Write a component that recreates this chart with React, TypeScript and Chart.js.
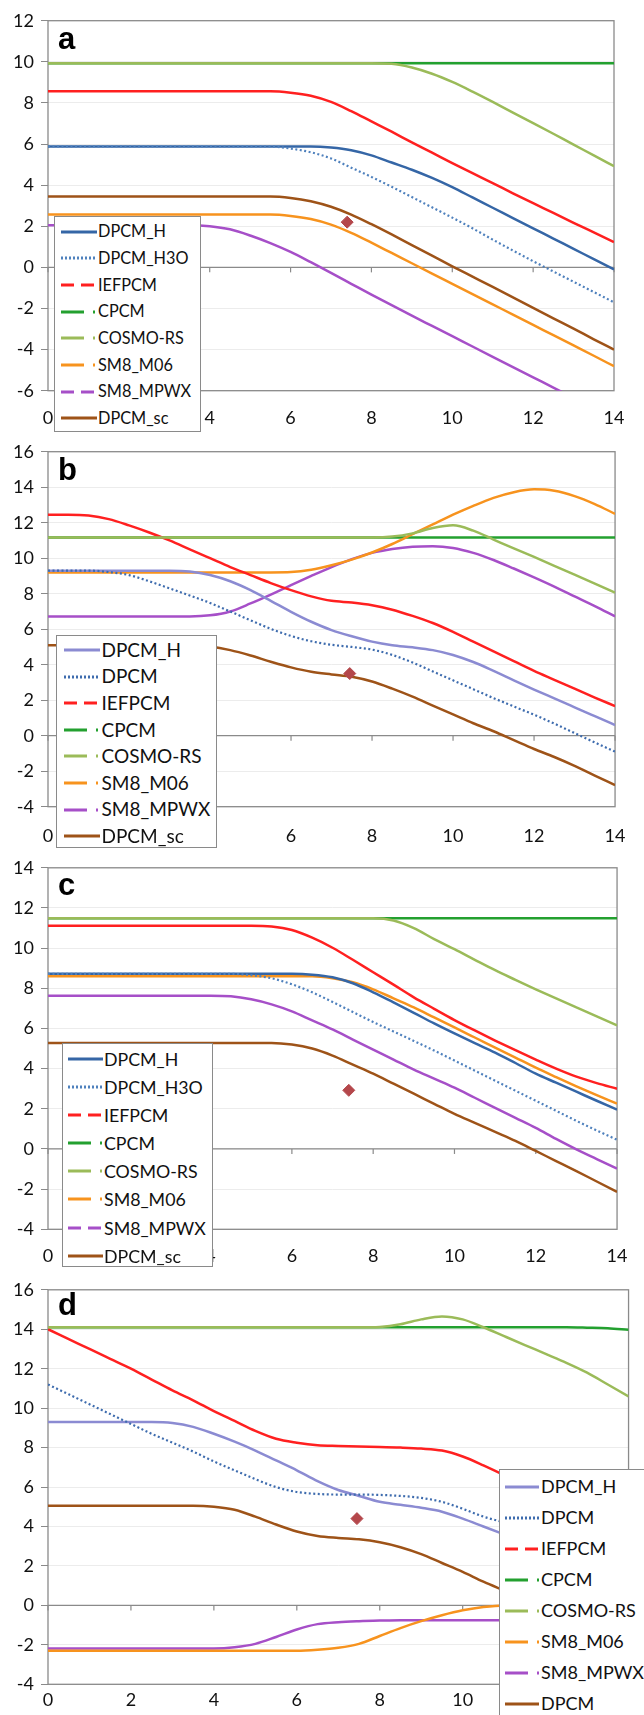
import React, { useEffect, useRef } from 'react';
import { Chart, registerables } from 'chart.js';

Chart.register(...registerables);

// ---------- DATA ----------
const xValues = [0, 0.5, 1, 1.5, 2, 2.5, 3, 3.5, 4, 4.5, 5, 5.5, 6, 6.5, 7, 7.5, 8, 8.5, 9, 9.5, 10, 10.5, 11, 11.5, 12, 12.5, 13, 13.5, 14];

const labelsA = ['DPCM_H', 'DPCM_H3O', 'IEFPCM', 'CPCM', 'COSMO-RS', 'SM8_M06', 'SM8_MPWX', 'DPCM_sc'];
const labelsB = ['DPCM_H', 'DPCM', 'IEFPCM', 'CPCM', 'COSMO-RS', 'SM8_M06', 'SM8_MPWX', 'DPCM_sc'];
const labelsC = ['DPCM_H', 'DPCM_H3O', 'IEFPCM', 'CPCM', 'COSMO-RS', 'SM8_M06', 'SM8_MPWX', 'DPCM_sc'];
const labelsD = ['DPCM_H', 'DPCM', 'IEFPCM', 'CPCM', 'COSMO-RS', 'SM8_M06', 'SM8_MPWX', 'DPCM'];

const panelLetters = ['a', 'b', 'c', 'd'];
const yRangeA = [-6, 12];
const yRangeB = [-4, 16];
const yRangeC = [-4, 14];
const yRangeD = [-4, 16];

// experimental point (diamond)
const markerX = [7.4, 7.45, 7.4, 7.45];
const markerY = [2.2, 3.5, 2.92, 4.4];

// panel a
const A_DPCM_H = [5.88, 5.88, 5.88, 5.88, 5.88, 5.88, 5.88, 5.88, 5.88, 5.88, 5.88, 5.88, 5.88, 5.88, 5.83, 5.7, 5.45, 5.1, 4.75, 4.35, 3.9, 3.4, 2.9, 2.4, 1.9, 1.4, 0.9, 0.4, -0.1];
const A_DPCM_H3O = [5.88, 5.88, 5.88, 5.88, 5.88, 5.88, 5.88, 5.88, 5.88, 5.88, 5.88, 5.88, 5.78, 5.6, 5.3, 4.85, 4.4, 3.92, 3.42, 2.92, 2.42, 1.9, 1.35, 0.82, 0.3, -0.2, -0.7, -1.2, -1.7];
const A_IEFPCM = [8.57, 8.57, 8.57, 8.57, 8.57, 8.57, 8.57, 8.57, 8.57, 8.57, 8.57, 8.57, 8.5, 8.35, 8.05, 7.6, 7.1, 6.6, 6.08, 5.58, 5.07, 4.58, 4.1, 3.6, 3.12, 2.65, 2.17, 1.7, 1.23];
const A_CPCM = [9.93, 9.93, 9.93, 9.93, 9.93, 9.93, 9.93, 9.93, 9.93, 9.93, 9.93, 9.93, 9.93, 9.93, 9.93, 9.93, 9.93, 9.93, 9.93, 9.93, 9.93, 9.93, 9.93, 9.93, 9.93, 9.93, 9.93, 9.93, 9.93];
const A_COSMO = [9.93, 9.93, 9.93, 9.93, 9.93, 9.93, 9.93, 9.93, 9.93, 9.93, 9.93, 9.93, 9.93, 9.93, 9.93, 9.93, 9.93, 9.9, 9.72, 9.42, 9.02, 8.55, 8.05, 7.53, 7.02, 6.5, 5.97, 5.45, 4.92];
const A_SM8_M06 = [2.57, 2.57, 2.57, 2.57, 2.57, 2.57, 2.57, 2.57, 2.57, 2.57, 2.57, 2.57, 2.5, 2.35, 2.08, 1.68, 1.2, 0.7, 0.2, -0.3, -0.8, -1.3, -1.8, -2.3, -2.8, -3.3, -3.8, -4.3, -4.81];
const A_SM8_MPWX = [2.05, 2.05, 2.05, 2.05, 2.05, 2.05, 2.05, 2.05, 2.0, 1.85, 1.55, 1.18, 0.75, 0.25, -0.27, -0.8, -1.33, -1.84, -2.35, -2.85, -3.35, -3.85, -4.35, -4.85, -5.35, -5.85, -6.35, -6.85, -7.35];
const A_DPCM_sc = [3.45, 3.45, 3.45, 3.45, 3.45, 3.45, 3.45, 3.45, 3.45, 3.45, 3.45, 3.45, 3.38, 3.22, 2.95, 2.57, 2.1, 1.6, 1.08, 0.57, 0.05, -0.45, -0.95, -1.46, -1.97, -2.48, -2.98, -3.5, -4.0];

// panel b
const B_DPCM_H = [9.3, 9.3, 9.3, 9.3, 9.3, 9.3, 9.3, 9.25, 9.05, 8.7, 8.2, 7.6, 6.98, 6.42, 5.95, 5.6, 5.3, 5.1, 4.98, 4.82, 4.55, 4.15, 3.65, 3.12, 2.6, 2.1, 1.6, 1.1, 0.6];
const B_DPCM = [9.3, 9.3, 9.3, 9.22, 9.05, 8.7, 8.3, 7.9, 7.48, 7.0, 6.5, 6.02, 5.62, 5.32, 5.12, 5.0, 4.85, 4.55, 4.12, 3.62, 3.12, 2.62, 2.12, 1.65, 1.18, 0.68, 0.15, -0.38, -0.9];
const B_IEFPCM = [12.45, 12.45, 12.4, 12.2, 11.85, 11.45, 11.0, 10.5, 10.0, 9.5, 9.05, 8.6, 8.2, 7.85, 7.6, 7.5, 7.35, 7.1, 6.75, 6.35, 5.85, 5.3, 4.75, 4.2, 3.65, 3.15, 2.65, 2.15, 1.67];
const B_CPCM = [11.17, 11.17, 11.17, 11.17, 11.17, 11.17, 11.17, 11.17, 11.17, 11.17, 11.17, 11.17, 11.17, 11.17, 11.17, 11.17, 11.17, 11.17, 11.17, 11.17, 11.17, 11.17, 11.17, 11.17, 11.17, 11.17, 11.17, 11.17, 11.17];
const B_COSMO = [11.17, 11.17, 11.17, 11.17, 11.17, 11.17, 11.17, 11.17, 11.17, 11.17, 11.17, 11.17, 11.17, 11.17, 11.17, 11.17, 11.17, 11.22, 11.4, 11.7, 11.85, 11.55, 11.05, 10.55, 10.07, 9.57, 9.07, 8.57, 8.06];
const B_SM8_M06 = [9.2, 9.2, 9.2, 9.2, 9.2, 9.2, 9.2, 9.2, 9.2, 9.2, 9.2, 9.2, 9.22, 9.35, 9.6, 9.92, 10.32, 10.8, 11.35, 11.9, 12.45, 12.95, 13.4, 13.72, 13.88, 13.8, 13.5, 13.05, 12.5];
const B_SM8_MPWX = [6.72, 6.72, 6.72, 6.72, 6.72, 6.72, 6.72, 6.72, 6.78, 7.0, 7.45, 7.95, 8.48, 9.0, 9.5, 9.95, 10.3, 10.52, 10.65, 10.68, 10.58, 10.3, 9.9, 9.42, 8.92, 8.4, 7.85, 7.3, 6.72];
const B_DPCM_sc = [5.1, 5.1, 5.1, 5.1, 5.1, 5.1, 5.1, 5.1, 5.02, 4.82, 4.52, 4.17, 3.85, 3.6, 3.45, 3.32, 3.05, 2.65, 2.2, 1.7, 1.2, 0.7, 0.25, -0.25, -0.75, -1.2, -1.7, -2.25, -2.78];

// panel c
const C_DPCM_H = [8.72, 8.72, 8.72, 8.72, 8.72, 8.72, 8.72, 8.72, 8.72, 8.72, 8.72, 8.72, 8.72, 8.68, 8.55, 8.25, 7.8, 7.3, 6.78, 6.25, 5.75, 5.27, 4.8, 4.28, 3.75, 3.3, 2.85, 2.4, 1.96];
const C_DPCM_H3O = [8.72, 8.72, 8.72, 8.72, 8.72, 8.72, 8.72, 8.72, 8.72, 8.72, 8.65, 8.5, 8.2, 7.8, 7.32, 6.82, 6.32, 5.85, 5.38, 4.9, 4.4, 3.9, 3.4, 2.9, 2.4, 1.9, 1.4, 0.92, 0.46];
const C_IEFPCM = [11.12, 11.12, 11.12, 11.12, 11.12, 11.12, 11.12, 11.12, 11.12, 11.12, 11.12, 11.08, 10.9, 10.52, 10.02, 9.42, 8.8, 8.18, 7.55, 6.98, 6.42, 5.9, 5.4, 4.92, 4.45, 4.0, 3.6, 3.28, 3.0];
const C_CPCM = [11.49, 11.49, 11.49, 11.49, 11.49, 11.49, 11.49, 11.49, 11.49, 11.49, 11.49, 11.49, 11.49, 11.49, 11.49, 11.49, 11.49, 11.49, 11.49, 11.49, 11.49, 11.49, 11.49, 11.49, 11.49, 11.49, 11.49, 11.49, 11.49];
const C_COSMO = [11.49, 11.49, 11.49, 11.49, 11.49, 11.49, 11.49, 11.49, 11.49, 11.49, 11.49, 11.49, 11.49, 11.49, 11.49, 11.49, 11.49, 11.38, 11.0, 10.45, 9.95, 9.42, 8.9, 8.42, 7.95, 7.5, 7.05, 6.6, 6.15];
const C_SM8_M06 = [8.6, 8.6, 8.6, 8.6, 8.6, 8.6, 8.6, 8.6, 8.6, 8.6, 8.6, 8.6, 8.6, 8.6, 8.5, 8.3, 7.95, 7.5, 7.05, 6.55, 6.05, 5.55, 5.05, 4.55, 4.05, 3.58, 3.12, 2.68, 2.26];
const C_SM8_MPWX = [7.63, 7.63, 7.63, 7.63, 7.63, 7.63, 7.63, 7.63, 7.63, 7.6, 7.45, 7.2, 6.85, 6.4, 5.95, 5.45, 4.95, 4.45, 3.95, 3.5, 3.05, 2.55, 2.05, 1.55, 1.05, 0.5, -0.02, -0.5, -0.98];
const C_DPCM_sc = [5.28, 5.28, 5.28, 5.28, 5.28, 5.28, 5.28, 5.28, 5.28, 5.28, 5.28, 5.28, 5.2, 5.0, 4.65, 4.2, 3.75, 3.25, 2.75, 2.25, 1.75, 1.3, 0.85, 0.4, -0.1, -0.6, -1.1, -1.62, -2.14];

// panel d
const D_DPCM_H = [9.3, 9.3, 9.3, 9.3, 9.3, 9.3, 9.25, 9.05, 8.7, 8.3, 7.85, 7.35, 6.85, 6.3, 5.85, 5.55, 5.25, 5.1, 4.95, 4.75, 4.4, 4.0, 3.6, 3.2, 2.75, 2.3, 1.85, 1.4, 0.95];
const D_DPCM = [11.2, 10.7, 10.2, 9.7, 9.2, 8.7, 8.25, 7.8, 7.3, 6.85, 6.4, 6.0, 5.75, 5.65, 5.62, 5.62, 5.6, 5.55, 5.45, 5.25, 4.9, 4.5, 4.2, 3.8, 3.3, 2.8, 2.3, 1.8, 1.3];
const D_IEFPCM = [14.0, 13.5, 13.0, 12.5, 12.0, 11.45, 10.9, 10.4, 9.85, 9.35, 8.85, 8.45, 8.25, 8.12, 8.08, 8.05, 8.03, 8.0, 7.95, 7.85, 7.55, 7.1, 6.6, 6.05, 5.5, 5.0, 4.5, 4.0, 3.5];
const D_CPCM = [14.1, 14.1, 14.1, 14.1, 14.1, 14.1, 14.1, 14.1, 14.1, 14.1, 14.1, 14.1, 14.1, 14.1, 14.1, 14.1, 14.1, 14.1, 14.1, 14.1, 14.1, 14.1, 14.1, 14.1, 14.1, 14.1, 14.08, 14.05, 13.97];
const D_COSMO = [14.1, 14.1, 14.1, 14.1, 14.1, 14.1, 14.1, 14.1, 14.1, 14.1, 14.1, 14.1, 14.1, 14.1, 14.1, 14.1, 14.12, 14.25, 14.5, 14.65, 14.5, 14.1, 13.65, 13.2, 12.75, 12.3, 11.8, 11.2, 10.6];
const D_SM8_M06 = [-2.3, -2.3, -2.3, -2.3, -2.3, -2.3, -2.3, -2.3, -2.3, -2.3, -2.3, -2.3, -2.3, -2.25, -2.15, -1.95, -1.55, -1.15, -0.8, -0.5, -0.25, -0.08, 0.0, 0.0, 0.0, 0.0, 0.0, 0.0, 0.0];
const D_SM8_MPWX = [-2.18, -2.18, -2.18, -2.18, -2.18, -2.18, -2.18, -2.18, -2.18, -2.12, -1.95, -1.6, -1.22, -0.95, -0.85, -0.8, -0.77, -0.75, -0.75, -0.75, -0.75, -0.75, -0.75, -0.75, -0.75, -0.75, -0.75, -0.75, -0.75];
const D_DPCM_sc = [5.05, 5.05, 5.05, 5.05, 5.05, 5.05, 5.05, 5.05, 5.0, 4.85, 4.5, 4.1, 3.75, 3.52, 3.42, 3.35, 3.2, 2.95, 2.6, 2.15, 1.7, 1.2, 0.75, 0.3, -0.2, -0.7, -1.2, -1.7, -2.2];

// ---------- STYLE / LAYOUT ----------
const colorsAC = ['#3566a6', '#4f81bd', '#ff2020', '#23a02f', '#9bbb59', '#f7931e', '#a64fc8', '#9e5318'];
const colorsBD = ['#8b8bd2', '#3e6cae', '#ff2020', '#23a02f', '#9bbb59', '#f7931e', '#a64fc8', '#9e5318'];
const drawOrder = [4, 1, 3, 9, 2, 5, 6, 7];
const DOT = '2 2';
const DASH = '13 7';
const DASHDOT = '23 9 2 40';
const dashesAC = ['', DOT, DASH, DASHDOT, DASHDOT, DASHDOT, DASH, ''];
const dashesBD = ['', DOT, DASH, DASHDOT, DASHDOT, DASHDOT, DASHDOT, ''];

type LegendLayout = {
  left: number; top: number; width: number; height: number;
  first: number; spacing: number; swatchLeft: number; swatchW: number; textLeft: number; fontSize: number;
};

type Panel = {
  top: number; height: number; plotTop: number; plotBottom: number; plotRight: number;
  yRange: number[]; labelPad: number; series: number[][]; labels: string[]; colors: string[];
  dashes: string[]; marker: number[]; letter: string; letterTop: number; legend: LegendLayout;
};

const PANELS: Panel[] = [
  {
    top: 0, height: 432, plotTop: 20.7, plotBottom: 390.7, plotRight: 614, yRange: yRangeA, labelPad: 16.5,
    series: [A_DPCM_H, A_DPCM_H3O, A_IEFPCM, A_CPCM, A_COSMO, A_SM8_M06, A_SM8_MPWX, A_DPCM_sc],
    labels: labelsA, colors: colorsAC, dashes: dashesAC, marker: [markerX[0], markerY[0]],
    letter: panelLetters[0], letterTop: 22.8,
    legend: { left: 53.5, top: 216, width: 147, height: 216, first: 15.7, spacing: 26.65, swatchLeft: 7.5, swatchW: 36, textLeft: 44.5, fontSize: 16.3 },
  },
  {
    top: 432, height: 418, plotTop: 451.7, plotBottom: 806.7, plotRight: 632, yRange: yRangeB, labelPad: 18.5,
    series: [B_DPCM_H, B_DPCM, B_IEFPCM, B_CPCM, B_COSMO, B_SM8_M06, B_SM8_MPWX, B_DPCM_sc],
    labels: labelsB, colors: colorsBD, dashes: dashesBD, marker: [markerX[1], markerY[1]],
    letter: panelLetters[1], letterTop: 453.8,
    legend: { left: 55.5, top: 635, width: 161.5, height: 213, first: 15, spacing: 26.6, swatchLeft: 8.5, swatchW: 36, textLeft: 46, fontSize: 19 },
  },
  {
    top: 850, height: 422, plotTop: 867.3, plotBottom: 1229.3, plotRight: 626, yRange: yRangeC, labelPad: 16.5,
    series: [C_DPCM_H, C_DPCM_H3O, C_IEFPCM, C_CPCM, C_COSMO, C_SM8_M06, C_SM8_MPWX, C_DPCM_sc],
    labels: labelsC, colors: colorsAC, dashes: dashesAC, marker: [markerX[2], markerY[2]],
    letter: panelLetters[2], letterTop: 868.8,
    legend: { left: 61.7, top: 1042.7, width: 151, height: 224.3, first: 16.3, spacing: 28.1, swatchLeft: 6.3, swatchW: 35, textLeft: 42.3, fontSize: 17.8 },
  },
  {
    top: 1272, height: 443, plotTop: 1286, plotBottom: 1684.3, plotRight: 632, yRange: yRangeD, labelPad: 5,
    series: [D_DPCM_H, D_DPCM, D_IEFPCM, D_CPCM, D_COSMO, D_SM8_M06, D_SM8_MPWX, D_DPCM_sc],
    labels: labelsD, colors: colorsBD, dashes: dashesBD, marker: [markerX[3], markerY[3]],
    letter: panelLetters[3], letterTop: 1288.8,
    legend: { left: 499, top: 1469.3, width: 200, height: 260, first: 17.4, spacing: 31, swatchLeft: 6, swatchW: 34, textLeft: 42, fontSize: 18 },
  },
];

const AXIS_COLOR = '#8a8a8a';
const TEXT_COLOR = '#111111';
const TICK_FONT = { family: 'Lato', size: 18 };

const framePlugin = {
  id: 'frame',
  beforeDatasetsDraw(chart: any) {
    const { ctx, chartArea, scales } = chart;
    ctx.save();
    ctx.strokeStyle = AXIS_COLOR;
    ctx.lineWidth = 1.3;
    ctx.strokeRect(chartArea.left, chartArea.top, chartArea.right - chartArea.left, chartArea.bottom - chartArea.top);
    const y0 = scales.y.getPixelForValue(0);
    ctx.beginPath();
    ctx.moveTo(chartArea.left, y0);
    ctx.lineTo(chartArea.right, y0);
    ctx.stroke();
    ctx.lineWidth = 1.2;
    for (const t of scales.x.ticks) {
      const x = scales.x.getPixelForValue(t.value);
      ctx.beginPath();
      ctx.moveTo(x, y0);
      ctx.lineTo(x, y0 + 5);
      ctx.stroke();
    }
    ctx.restore();
  },
};

function buildConfig(p: Panel): any {
  const datasets: any[] = p.series.map((vals, i) => ({
    label: p.labels[i],
    data: xValues.map((x, j) => ({ x, y: vals[j] })),
    borderColor: p.colors[i],
    backgroundColor: p.colors[i],
    borderWidth: i === 1 ? 2.2 : 2.5,
    borderDash: i === 1 ? [2, 2.5] : [],
    pointRadius: 0,
    cubicInterpolationMode: 'monotone',
    fill: false,
    order: drawOrder[i],
  }));
  datasets.push({
    label: 'exp',
    data: [{ x: p.marker[0], y: p.marker[1] }],
    showLine: false,
    pointStyle: 'rectRot',
    pointRadius: 6,
    pointBackgroundColor: '#b4474b',
    pointBorderColor: '#b4474b',
    borderColor: '#b4474b',
    backgroundColor: '#b4474b',
    order: 0,
  });
  return {
    type: 'line',
    data: { datasets },
    options: {
      animation: false,
      responsive: false,
      maintainAspectRatio: false,
      events: [],
      layout: { padding: { top: p.plotTop - p.top, right: 644 - p.plotRight, left: 0, bottom: 0 } },
      plugins: { legend: { display: false }, tooltip: { enabled: false }, title: { display: false } },
      scales: {
        x: {
          type: 'linear', min: 0, max: 14,
          afterFit: (s: any) => { s.height = p.top + p.height - p.plotBottom; },
          ticks: { stepSize: 2, font: TICK_FONT, color: TEXT_COLOR, padding: p.labelPad, maxRotation: 0, autoSkip: false },
          grid: { display: false, drawTicks: false },
          border: { display: false },
        },
        y: {
          type: 'linear', min: p.yRange[0], max: p.yRange[1],
          afterFit: (s: any) => { s.width = 48; },
          ticks: { stepSize: 2, font: TICK_FONT, color: TEXT_COLOR, padding: 7 },
          grid: { color: '#ececec', lineWidth: 1, tickLength: 7, tickColor: AXIS_COLOR, drawTicks: true },
          border: { display: false },
        },
      },
    },
    plugins: [framePlugin],
  };
}

function Legend({ p }: { p: Panel }) {
  const L = p.legend;
  return (
    <div
      style={{
        position: 'absolute', left: L.left, top: L.top, width: L.width, height: L.height,
        background: '#fff', border: `1px solid ${AXIS_COLOR}`, boxSizing: 'border-box',
        fontFamily: 'Lato, sans-serif',
      }}
    >
      {p.labels.map((lab, i) => {
        const cy = L.first + i * L.spacing - 1;
        return (
          <React.Fragment key={i}>
            <svg
              width={L.swatchW}
              height={8}
              style={{ position: 'absolute', left: L.swatchLeft - 1, top: cy - 4 }}
            >
              <line
                x1={0} y1={4} x2={L.swatchW} y2={4}
                stroke={p.colors[i]} strokeWidth={3}
                strokeDasharray={p.dashes[i] || undefined}
              />
            </svg>
            <span
              style={{
                position: 'absolute', left: L.textLeft - 1, top: cy - L.spacing / 2,
                height: L.spacing, lineHeight: `${L.spacing}px`, fontSize: L.fontSize,
                color: TEXT_COLOR, whiteSpace: 'nowrap',
              }}
            >
              {lab}
            </span>
          </React.Fragment>
        );
      })}
    </div>
  );
}

export default function App() {
  const r0 = useRef<HTMLCanvasElement>(null);
  const r1 = useRef<HTMLCanvasElement>(null);
  const r2 = useRef<HTMLCanvasElement>(null);
  const r3 = useRef<HTMLCanvasElement>(null);
  const refs = [r0, r1, r2, r3];

  useEffect(() => {
    const charts: Chart[] = [];
    PANELS.forEach((p, i) => {
      const c = refs[i].current;
      if (c) charts.push(new Chart(c, buildConfig(p)));
    });
    return () => charts.forEach((c) => c.destroy());
  }, []);

  return (
    <div
      style={{
        position: 'absolute', left: 0, top: 0, width: 644, height: 1715,
        overflow: 'hidden', background: '#fff',
      }}
    >
      {PANELS.map((p, i) => (
        <React.Fragment key={i}>
          <canvas
            ref={refs[i]}
            width={644}
            height={p.height}
            style={{ position: 'absolute', left: 0, top: p.top, width: 644, height: p.height }}
          />
          <div
            style={{
              position: 'absolute', left: 58, top: p.letterTop, fontFamily: '"Liberation Sans", Arial, sans-serif',
              fontWeight: 'bold', fontSize: 31, lineHeight: '31px', color: '#000',
            }}
          >
            {p.letter}
          </div>
          <Legend p={p} />
        </React.Fragment>
      ))}
    </div>
  );
}
